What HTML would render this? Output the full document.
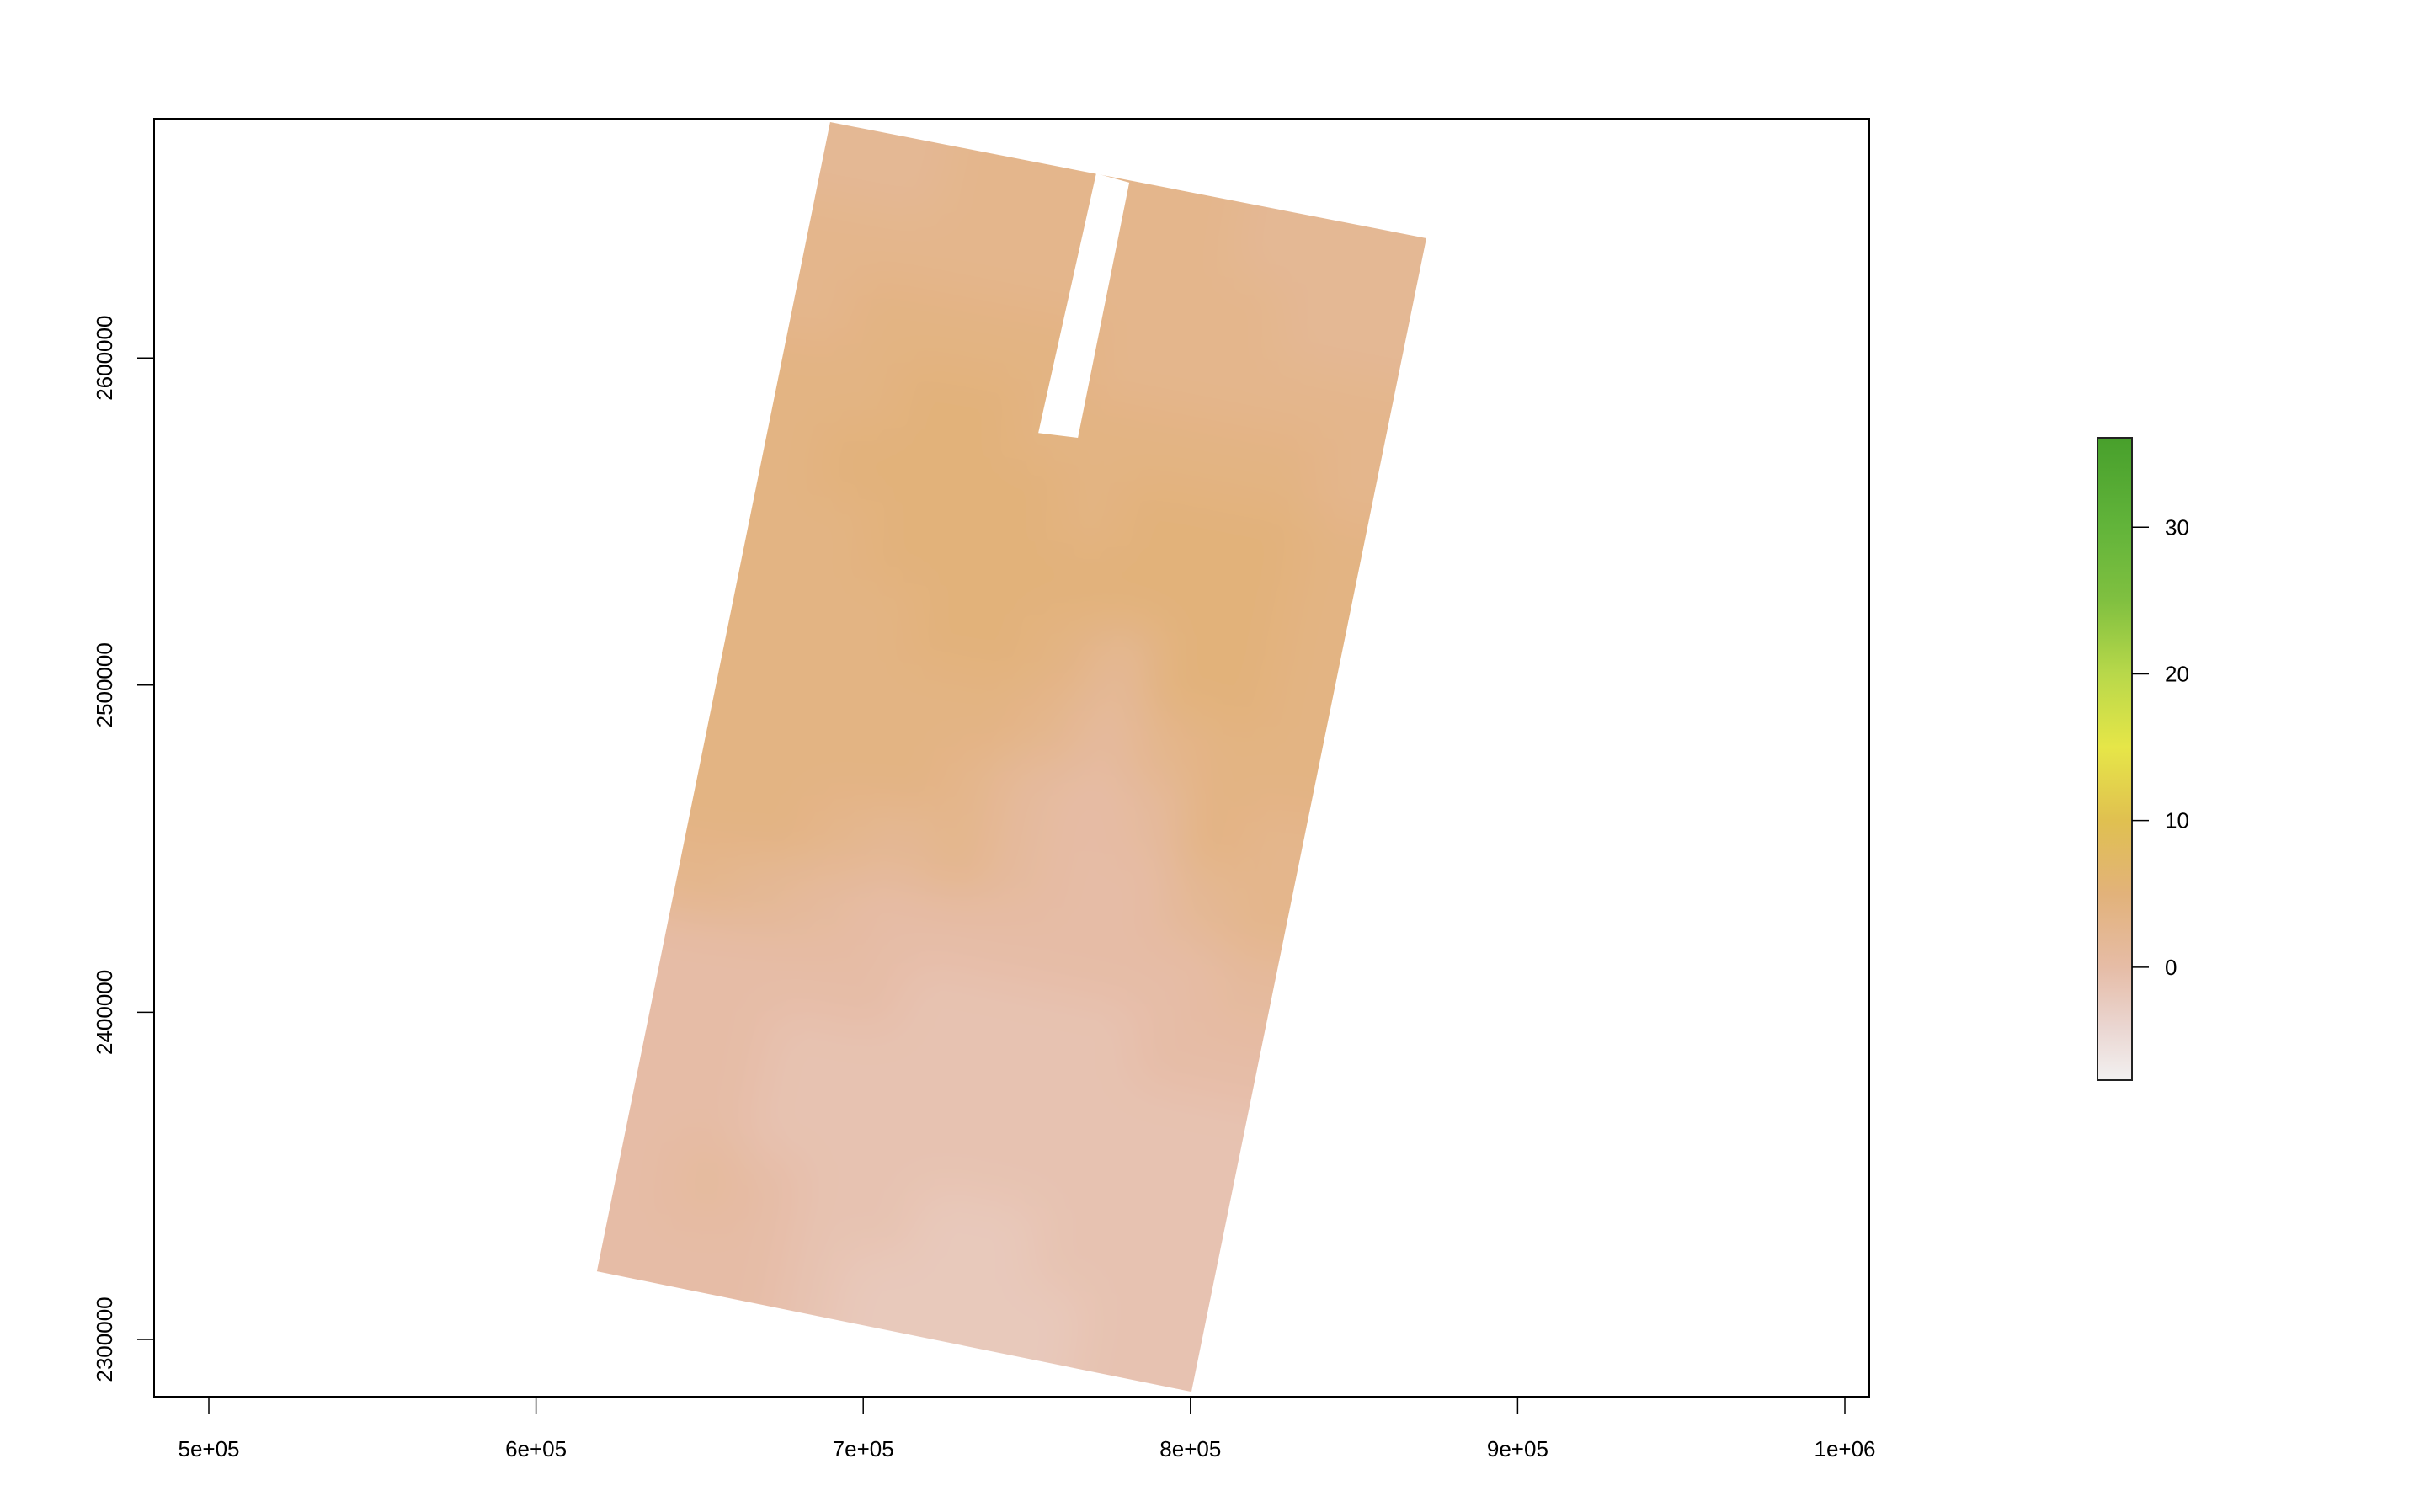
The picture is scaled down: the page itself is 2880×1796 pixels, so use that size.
<!DOCTYPE html>
<html><head><meta charset="utf-8"><style>
html,body{margin:0;padding:0;background:#fff;}
svg{display:block;font-family:"Liberation Sans",sans-serif;}
</style></head><body>
<svg id="chart" width="2880" height="1796" viewBox="0 0 2880 1796" xmlns="http://www.w3.org/2000/svg">
<defs>
<linearGradient id="cbg" x1="0" y1="1" x2="0" y2="0"></linearGradient>
<clipPath id="fpclip"><polygon id="fpoly" points="0,0"/></clipPath>
<filter id="blur" x="-5%" y="-5%" width="110%" height="110%"><feGaussianBlur stdDeviation="28"/></filter>
</defs>
<g clip-path="url(#fpclip)">
<g id="raster" filter="url(#blur)"></g>
</g>
<g id="gapg"></g>
<g id="axes"></g>
<g id="legend"></g>
</svg>
<script>
// ---- data ----
const xTicks = [500000, 600000, 700000, 800000, 900000, 1000000];
const xTickLabels = ["5e+05", "6e+05", "7e+05", "8e+05", "9e+05", "1e+06"];
const yTicks = [2300000, 2400000, 2500000, 2600000];
const yTickLabels = ["2300000", "2400000", "2500000", "2600000"];
const legendTicks = [0, 10, 20, 30];
const legendMin = -7.7, legendMax = 36.1;
const colorStopValues = [-8, -4, 0, 5, 10, 15, 20, 25, 30, 36];
const colorStopColors = ["#f2f0f0", "#ead5d0", "#e6bca6", "#e2b27a", "#e0c050", "#e6e648", "#b8d84a", "#80c040", "#62b43a", "#48a02c"];
// raster footprint corners (map units): TL, TR, BR, BL
const cornerX = [689900, 872100, 800300, 618600];
const cornerY = [2672100, 2636600, 2284000, 2320800];
// no-data stripe corners (map units): TL, TR, BL, BR
const gapX = [771200, 781300, 753500, 765600];
const gapY = [2656400, 2653600, 2577100, 2575600];
// raster cell values (rows top->bottom, cols left->right)
const cellValues = [
 [2,2,3,3,3,3,3,2,2,2],
 [3,3,3,3,3,3,3,3,2,2],
 [3,4,4,4,4,3,3,3,3,3],
 [4,4,5,5,4,4,4,4,4,3],
 [4,5,5,5,5,4,5,5,5,4],
 [4,4,5,5,5,5,5,5,5,4],
 [4,4,4,5,5,4,2,5,5,4],
 [4,4,4,4,4,3,1,3,4,4],
 [4,4,4,4,3,1,0,1,4,3],
 [4,4,3,2,3,1,0,0,2,3],
 [3,2,1,0,0,0,0,0,0,1],
 [0,0,0,0,-1,-1,-1,-1,0,0],
 [0,0,-1,-1,-1,-1,-1,-1,-1,-1],
 [0,0,-1,-1,-1,-1,-1,-1,-1,-1],
 [0,1,0,-1,-1,-2,-2,-1,-1,-1],
 [0,0,0,-1,-2,-2,-2,-2,-1,-1]
];

// ---- scales ----
const PX = 388.6/100000;
const sx = v => 248 + (v - 500000) * PX;
const sy = v => 1591 - (v - 2300000) * PX;
const plot = {l:183, r:2220, t:141, b:1659};
const lg = {l:2491, r:2532, t:520, b:1283};
const ly = v => lg.b - (v - legendMin) / (legendMax - legendMin) * (lg.b - lg.t);

function hex(c){return [parseInt(c.slice(1,3),16),parseInt(c.slice(3,5),16),parseInt(c.slice(5,7),16)];}
function colorOf(v){
  if (v <= colorStopValues[0]) return colorStopColors[0];
  for (let i=1;i<colorStopValues.length;i++){
    if (v <= colorStopValues[i]){
      const t=(v-colorStopValues[i-1])/(colorStopValues[i]-colorStopValues[i-1]);
      const a=hex(colorStopColors[i-1]), b=hex(colorStopColors[i]);
      return "rgb("+a.map((x,k)=>Math.round(x+(b[k]-x)*t)).join(",")+")";
    }
  }
  return colorStopColors[colorStopColors.length-1];
}
const NS="http://www.w3.org/2000/svg";
function mk(tag, attrs, parent){const e=document.createElementNS(NS,tag);for(const k in attrs)e.setAttribute(k,attrs[k]);parent.appendChild(e);return e;}

// ---- raster ----
const raster=document.getElementById('raster');
const P = cornerX.map((x,i)=>[sx(x), sy(cornerY[i])]);
document.getElementById('fpoly').setAttribute('points', P.map(p=>p.join(',')).join(' '));
function at(u,v){
  const tx=P[0][0]+(P[1][0]-P[0][0])*u, ty=P[0][1]+(P[1][1]-P[0][1])*u;
  const bx=P[3][0]+(P[2][0]-P[3][0])*u, by=P[3][1]+(P[2][1]-P[3][1])*u;
  return [tx+(bx-tx)*v, ty+(by-ty)*v];
}
const nr=cellValues.length, nc=cellValues[0].length;
for(let r=0;r<nr;r++){
  for(let c=0;c<nc;c++){
    // extend edge cells outward so blur doesn't fade at footprint edges
    const u0=c===0?-0.15:c/nc, u1=c===nc-1?1.15:(c+1)/nc;
    const v0=r===0?-0.1:r/nr, v1=r===nr-1?1.1:(r+1)/nr;
    const pts=[at(u0,v0),at(u1,v0),at(u1,v1),at(u0,v1)];
    const col=colorOf(cellValues[r][c]);
    const cell=mk('polygon',{points:pts.map(p=>p.join(',')).join(' '),fill:col,stroke:col,'stroke-width':2},raster);
    
    
  }
}
const gap=mk('polygon',{points:[0,1,3,2].map(i=>sx(gapX[i])+','+sy(gapY[i])).join(' '),fill:'#ffffff'},document.getElementById('gapg'));



// ---- axes ----
const axes=document.getElementById('axes');
const box=mk('rect',{x:plot.l,y:plot.t,width:plot.r-plot.l,height:plot.b-plot.t,fill:'none',stroke:'#000','stroke-width':2},axes);


xTicks.forEach((v,i)=>{
  const x=sx(v);
  const t=mk('line',{x1:x,y1:plot.b,x2:x,y2:plot.b+20,stroke:'#000','stroke-width':1.5},axes);
  
  
  const l=mk('text',{x:x,y:1730,'text-anchor':'middle','font-size':26,fill:'#000'},axes);
  l.textContent=xTickLabels[i];
  
  
});
yTicks.forEach((v,i)=>{
  const y=sy(v);
  const t=mk('line',{x1:plot.l,y1:y,x2:plot.l-20,y2:y,stroke:'#000','stroke-width':1.5},axes);
  
  
  const l=mk('text',{x:0,y:0,'text-anchor':'middle','font-size':26,fill:'#000',transform:'translate(133,'+y+') rotate(-90)'},axes);
  l.textContent=yTickLabels[i];
  
  
});

// ---- legend ----
const grad=document.getElementById('cbg');
colorStopValues.forEach((v,i)=>{
  const off=Math.min(1,Math.max(0,(v-legendMin)/(legendMax-legendMin)));
  const s=mk('stop',{offset:off,'stop-color':colorStopColors[i]},grad);
  
  
});
const legend=document.getElementById('legend');
const bar=mk('rect',{x:lg.l,y:lg.t,width:lg.r-lg.l,height:lg.b-lg.t,fill:'url(#cbg)',stroke:'#222','stroke-width':2},legend);


legendTicks.forEach(v=>{
  const y=ly(v);
  const t=mk('line',{x1:lg.r,y1:y,x2:lg.r+20,y2:y,stroke:'#000','stroke-width':1.5},legend);
  
  
  const l=mk('text',{x:2571,y:y+9,'font-size':26,fill:'#000'},legend);
  l.textContent=String(v);
  
  
});
</script>
</body></html>
